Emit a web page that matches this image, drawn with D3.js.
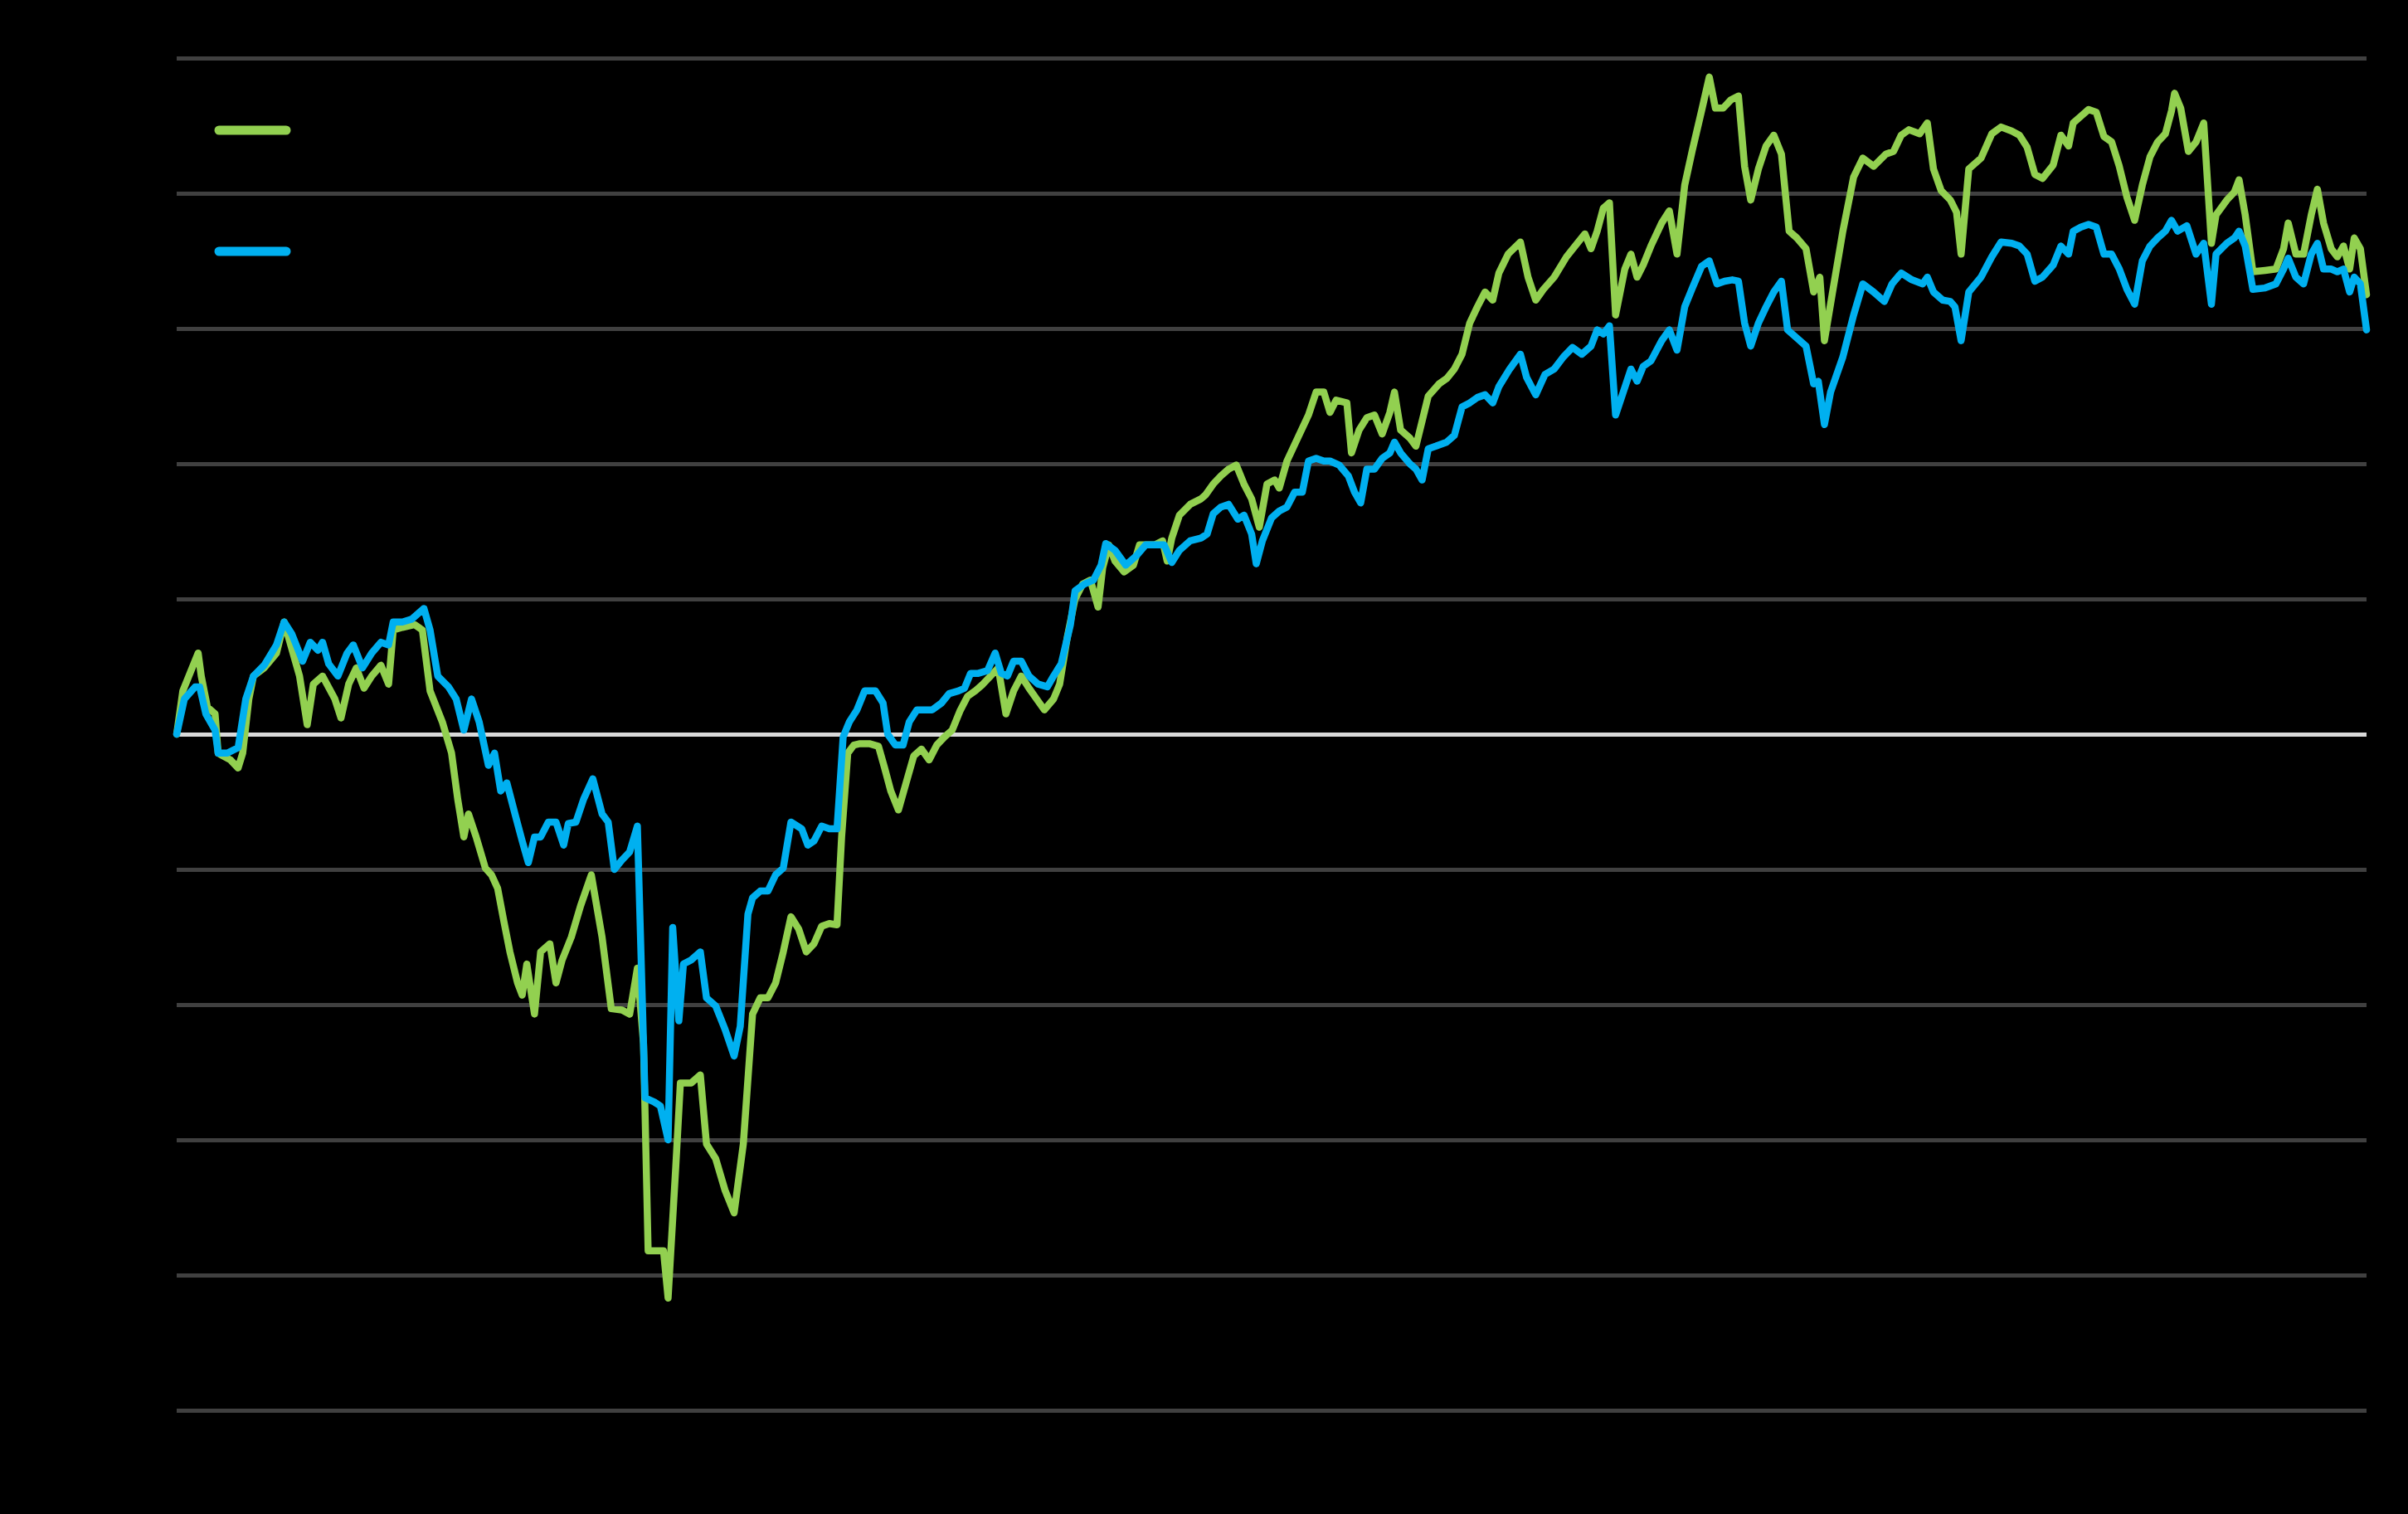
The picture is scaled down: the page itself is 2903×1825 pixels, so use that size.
<!DOCTYPE html>
<html>
<head>
<meta charset="utf-8">
<script src="https://cdnjs.cloudflare.com/ajax/libs/d3/7.8.5/d3.min.js"></script>
<style>
  html, body { margin: 0; padding: 0; background: #000; }
  #chart { width: 2903px; height: 1825px; }
</style>
</head>
<body>
<div id="chart"></div>
<script>
// time index (weeks from start) and cumulative values
var greenT = [0,4,14,16,20,25,27,30,35,40,43,47,50,57,65,70,80,85,89,95,103,107,112,117,122,127,133,138,141,147,155,160,165,173,179,183,187,190,195,201,205,209,213,217,222,225,228,233,237,243,247,251,257,263,270,277,283,290,295,300,304,307,313,317,320,325,328,335,341,345,351,357,363,369,375,380,385,390,395,400,405,410,415,420,425,430,433,437,441,445,451,457,461,465,470,475,480,485,490,495,500,505,510,515,520,525,530,535,540,545,550,555,560,565,571,575,580,585,590,595,600,603,607,611,617,623,627,633,637,642,645,648,653,660,667,670,675,680,685,690,695,700,705,710,715,718,723,730,737,742,747,751,755,762,765,770,775,780,785,790,793,797,803,807,815,822,827,832,837,842,847,852,857,861,867,875,880,885,890,897,905,912,917,921,925,929,933,937,943,947,951,955,960,967,972,977,982,987,993,998,1002,1007,1012,1017,1021,1025,1030,1035,1040,1045,1050,1055,1061,1066,1070,1073,1078,1085,1092,1098,1105,1113,1118,1123,1128,1135,1140,1144,1149,1155,1159,1162,1167,1175,1182,1188,1195,1200,1205,1210,1215,1222,1227,1232,1235,1240,1245,1250,1255,1260,1265,1270,1275,1280,1285,1290,1295,1299,1301,1305,1310,1315,1320,1325,1328,1335,1340,1343,1347,1352,1360,1367,1372,1375,1380,1385,1390,1394,1398,1403,1407,1411,1415,1418,1422,1426];
var greenV = [0,3.2,6.0,4.3,2.0,1.5,-1.4,-1.6,-1.9,-2.5,-1.4,2.6,4.3,4.9,6.0,8.3,4.3,0.7,3.7,4.3,2.6,1.2,3.7,4.9,3.4,4.3,5.1,3.7,7.7,7.9,8.1,7.7,3.2,0.9,-1.4,-4.8,-7.6,-5.9,-7.6,-9.9,-10.4,-11.4,-13.8,-16.1,-18.4,-19.3,-17.0,-20.7,-16.1,-15.5,-18.4,-16.7,-15.0,-12.7,-10.4,-15.0,-20.3,-20.4,-20.7,-17.3,-22.9,-38.2,-38.2,-38.2,-41.7,-32.0,-25.8,-25.8,-25.2,-30.3,-31.4,-33.7,-35.4,-30.3,-20.7,-19.5,-19.5,-18.4,-16.1,-13.5,-14.4,-16.1,-15.5,-14.2,-14.0,-14.1,-7.6,-1.4,-0.8,-0.7,-0.7,-0.9,-2.5,-4.2,-5.6,-3.6,-1.6,-1.1,-1.9,-0.8,-0.2,0.3,1.7,2.8,3.2,3.7,4.3,4.9,1.5,3.2,4.3,3.4,2.6,1.8,2.6,3.7,7.2,10.0,11.1,11.4,9.4,12.3,14.0,12.8,12.0,12.5,14.0,14.0,14.0,14.3,12.8,14.5,16.2,17.0,17.4,17.7,18.5,19.1,19.6,19.9,18.5,17.4,15.3,18.5,18.8,18.2,20.2,21.9,23.6,25.3,25.3,23.8,24.7,24.5,20.8,22.5,23.4,23.6,22.2,23.8,25.3,22.5,21.9,21.3,25.0,25.9,26.3,27.0,28.1,30.4,31.6,32.7,32.1,34.1,35.5,36.4,33.8,32.1,32.9,33.8,35.3,36.3,37.0,35.9,37.2,38.9,39.3,31.0,34.4,35.5,33.8,34.7,36.1,37.8,38.7,35.5,40.6,43.2,46.1,48.6,46.3,46.3,46.9,47.2,42.0,39.5,41.8,43.5,44.3,42.9,37.2,36.7,35.9,32.7,33.8,29.1,32.5,37.2,41.2,42.6,42.0,42.9,43.1,44.3,44.7,44.4,45.2,41.8,40.2,39.5,38.6,35.5,41.8,42.6,44.4,44.9,44.6,44.3,43.4,41.4,41.1,42.1,44.3,43.5,45.2,45.7,46.2,46.0,44.2,43.8,42.0,39.7,38.0,40.6,42.7,43.8,44.4,46.1,47.4,46.3,43.1,43.8,45.2,36.3,38.4,39.5,40.1,41.0,38.4,34.2,34.3,34.4,35.9,37.8,35.5,35.5,38.4,40.3,37.8,35.9,35.3,36.1,34.4,36.7,35.9,32.5];

var blueT = [0,5,12,15,19,25,27,33,40,45,50,57,65,70,75,82,87,92,95,99,105,111,115,121,127,133,138,141,147,153,161,165,170,177,182,187,192,197,203,207,211,215,221,225,229,233,237,242,247,252,255,260,265,271,277,281,285,290,295,300,305,311,315,320,323,327,330,335,341,345,351,357,363,367,372,375,380,385,390,395,400,407,411,415,420,425,430,434,438,443,448,455,460,463,468,473,477,482,488,492,498,503,509,513,517,522,528,533,537,541,545,550,555,561,567,571,576,582,585,591,597,602,605,611,618,625,631,637,643,648,653,660,667,671,675,680,685,691,695,700,703,707,713,718,723,728,733,737,742,747,751,757,763,767,771,775,780,785,790,793,797,803,807,811,815,820,827,832,837,842,847,852,857,861,868,875,879,885,891,897,903,909,915,921,925,929,933,937,942,947,951,955,960,967,972,977,982,987,993,998,1003,1008,1013,1017,1021,1025,1030,1035,1040,1045,1049,1055,1061,1066,1069,1073,1077,1085,1092,1098,1105,1112,1117,1123,1130,1137,1140,1144,1150,1155,1158,1162,1167,1175,1182,1188,1195,1200,1205,1210,1215,1222,1227,1232,1235,1240,1245,1250,1255,1260,1265,1270,1275,1280,1285,1290,1295,1299,1303,1309,1315,1320,1325,1328,1335,1340,1343,1347,1352,1360,1367,1372,1375,1380,1385,1390,1394,1398,1403,1407,1411,1415,1418,1422,1426];
var blueV = [0,2.6,3.5,3.5,1.5,0.3,-1.4,-1.4,-1.0,2.6,4.3,5.1,6.6,8.3,7.4,5.4,6.8,6.2,6.8,5.2,4.3,6.0,6.6,4.9,6.0,6.8,6.6,8.3,8.3,8.5,9.3,7.7,4.3,3.5,2.6,0.3,2.6,0.9,-2.3,-1.4,-4.2,-3.6,-6.2,-7.9,-9.5,-7.6,-7.6,-6.5,-6.5,-8.2,-6.6,-6.5,-4.8,-3.3,-5.9,-6.5,-10.0,-9.3,-8.7,-6.8,-26.9,-27.2,-27.5,-30.0,-14.3,-21.2,-17.0,-16.7,-16.1,-19.5,-20.1,-21.8,-23.8,-21.6,-13.3,-12.1,-11.6,-11.6,-10.4,-9.9,-6.5,-7.0,-8.2,-7.9,-6.8,-7.0,-7.0,-0.2,0.9,1.8,3.2,3.2,2.3,0,-0.8,-0.8,0.9,1.8,1.8,1.8,2.3,3.0,3.2,3.4,4.5,4.5,4.7,6.0,4.5,4.3,5.4,5.4,4.3,3.7,3.5,4.3,5.2,8.1,10.6,11.1,11.4,12.5,14.1,13.6,12.5,13.2,14.0,14.0,14.0,12.7,13.6,14.3,14.5,14.8,16.3,16.8,17.0,15.9,16.2,14.8,12.6,14.3,16.0,16.5,16.8,17.9,17.9,20.2,20.4,20.2,20.2,19.9,19.1,17.9,17.1,19.6,19.6,20.4,20.8,21.6,20.8,20.0,19.6,18.8,21.1,21.3,21.6,22.1,24.2,24.5,24.9,25.1,24.5,25.7,27.0,28.1,26.4,25.1,26.6,27.0,27.9,28.6,28.1,28.7,29.9,29.6,30.2,23.6,25.3,27.0,26.1,27.2,27.6,29.1,29.9,28.4,31.6,33.0,34.6,35.0,33.3,33.5,33.6,33.5,30.4,28.7,30.4,31.6,32.7,33.5,29.9,29.3,28.7,25.9,26.1,22.9,25.3,27.9,31.0,33.3,32.7,32.0,33.3,34.1,33.6,33.3,33.8,32.7,32.1,32.0,31.6,29.1,32.7,33.8,35.3,36.4,36.3,36.1,35.5,33.5,33.8,34.7,36.1,35.5,37.2,37.5,37.7,37.5,35.5,35.5,34.4,32.9,31.8,35.0,36.1,36.7,37.2,38.0,37.2,37.6,35.5,36.3,31.8,35.5,36.3,36.7,37.2,36.1,32.9,33.0,33.3,34.4,35.2,33.8,33.3,35.5,36.3,34.4,34.4,34.2,34.4,32.7,33.8,33.3,29.9];

var yTicks = [-50, -40, -30, -20, -10, 0, 10, 20, 30, 40, 50];
var seriesColors = ["#92d050", "#00b0f0"];

var width = 2903, height = 1825;
var margin = {left: 213, right: 50, top: 70, bottom: 125};

var svg = d3.select("#chart").append("svg")
    .attr("width", width)
    .attr("height", height)
    .style("background", "#000");

var x = d3.scaleLinear()
    .domain([0, 1426])
    .range([margin.left, width - margin.right]);
var y = d3.scaleLinear()
    .domain([-50, 50])
    .range([height - margin.bottom, margin.top]);

// horizontal gridlines
var grid = svg.append("g")
    .attr("transform", "translate(" + margin.left + ",0)")
    .call(d3.axisLeft(y)
        .tickValues(yTicks)
        .tickSize(-(width - margin.left - margin.right))
        .tickFormat(""));
grid.select(".domain").remove();
grid.selectAll(".tick line")
    .attr("stroke", function(d) { return d === 0 ? "#d9d9d9" : "#404040"; })
    .attr("stroke-width", 5);
// keep zero line on top of the grey ones
grid.selectAll(".tick").filter(function(d) { return d === 0; }).raise();

var line = d3.line()
    .x(function(d) { return x(d[0]); })
    .y(function(d) { return y(d[1]); })
    .curve(d3.curveLinear);

var series = [
  d3.zip(greenT, greenV),
  d3.zip(blueT, blueV)
];

svg.selectAll(".series")
    .data(series)
    .enter().append("path")
    .attr("class", "series")
    .attr("d", line)
    .attr("fill", "none")
    .attr("stroke", function(d, i) { return seriesColors[i]; })
    .attr("stroke-width", 8.5)
    .attr("stroke-linejoin", "round")
    .attr("stroke-linecap", "round");

// legend swatches
svg.selectAll(".legend")
    .data(seriesColors)
    .enter().append("line")
    .attr("class", "legend")
    .attr("x1", 264)
    .attr("x2", 345)
    .attr("y1", function(d, i) { return 157 + i * 146; })
    .attr("y2", function(d, i) { return 157 + i * 146; })
    .attr("stroke", function(d) { return d; })
    .attr("stroke-width", 11)
    .attr("stroke-linecap", "round");
</script>
</body>
</html>
